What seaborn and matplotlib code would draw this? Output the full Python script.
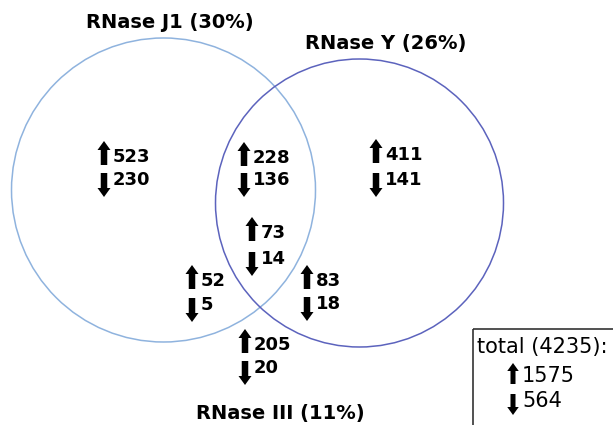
import seaborn as sns
import matplotlib.pyplot as plt
from matplotlib.patches import Circle, Rectangle, FancyArrow

# Venn diagram RNase J1 / Y / III : genes up / down
sets = ["RNase J1 (30%)", "RNase Y (26%)", "RNase III (11%)"]
regions = ["J1", "J1+Y", "Y", "J1+Y+III", "J1+III", "Y+III", "III"]
up = [523, 228, 411, 73, 52, 83, 205]
down = [230, 136, 141, 14, 5, 18, 20]
total = 4235
total_up = 1575
total_down = 564

# layout (pixel coords, y goes down)
reg_x = [104, 244, 376, 252, 192, 307, 245]
reg_y = [157, 158, 155, 233, 281, 281, 345]
reg_gap = [23, 22, 25, 26, 24, 23, 23]

sns.set_theme(style="white")
plt.rcParams['font.family'] = ['DejaVu Sans']
plt.rcParams['text.color'] = 'black'

fig = plt.figure(figsize=(6.13, 4.25), dpi=100)
ax = fig.add_axes([0, 0, 1, 1])
ax.set_xlim(0, 613)
ax.set_ylim(425, 0)
ax.axis("off")

ax.add_patch(Circle((163.5, 190), 152, fill=False, ec="#8fb3de", lw=1.1))
ax.add_patch(Circle((359.5, 203), 144, fill=False, ec="#5c63bd", lw=1.1))

ax.text(170, 22, sets[0], fontsize=14, fontweight="bold", ha="center", va="center")
ax.text(386, 43, sets[1], fontsize=14, fontweight="bold", ha="center", va="center")
ax.text(280, 413, sets[2], fontsize=14, fontweight="bold", ha="center", va="center")


def updown(x, y, gap, u, d, fs=13, bold=True, big=True):
    # up arrow: bottom at the text bottom, down arrow: top at the text top
    if big:
        L, w, hw, hl = 24, 6.5, 13, 9
    else:
        L, w, hw, hl = 21, 5, 11.5, 8
    ax.add_patch(FancyArrow(x, y + 8, 0, -L, width=w, head_width=hw, head_length=hl,
                            length_includes_head=True, color="black", lw=0))
    ax.add_patch(FancyArrow(x, y + gap - 7, 0, L, width=w, head_width=hw, head_length=hl,
                            length_includes_head=True, color="black", lw=0))
    wt = "bold" if bold else "normal"
    ax.text(x + 9, y, str(u), fontsize=fs, fontweight=wt, ha="left", va="center")
    ax.text(x + 9, y + gap, str(d), fontsize=fs, fontweight=wt, ha="left", va="center")


for i in range(len(regions)):
    updown(reg_x[i], reg_y[i], reg_gap[i], up[i], down[i])

# total box
ax.add_patch(Rectangle((473, 329), 160, 120, fill=False, ec="#333333", lw=1.2))
ax.text(477, 347, "total (%d):" % total, fontsize=15, ha="left", va="center")
updown(513, 376, 25, total_up, total_down, fs=15, bold=False, big=False)

fig.savefig("out.png", dpi=100)
